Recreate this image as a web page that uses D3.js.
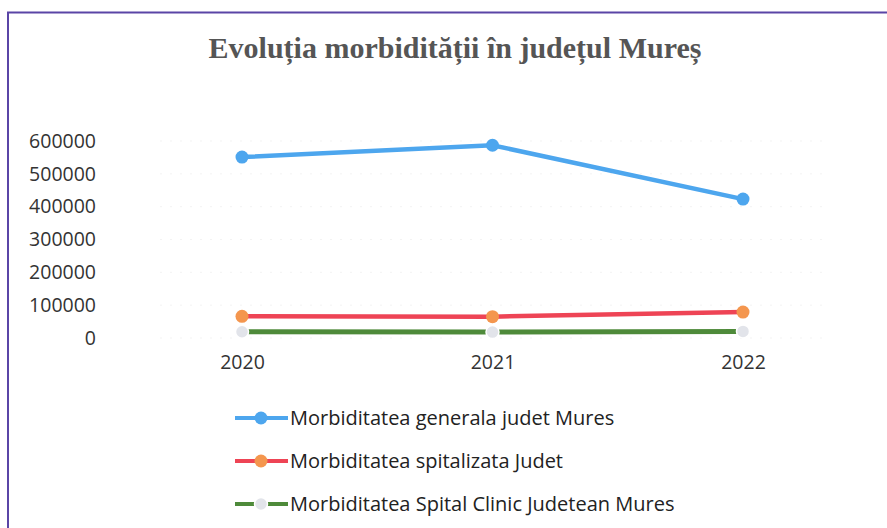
<!DOCTYPE html>
<html>
<head>
<meta charset="utf-8">
<script src="https://cdn.jsdelivr.net/npm/d3@7"></script>
<style>
  body { margin: 0; background: #fff; }
  text { font-family: "Open Sans", sans-serif; }
</style>
</head>
<body>
<div id="chart"></div>
<script>
// data
const years = ['2020', '2021', '2022']
const yTicks = [0, 100000, 200000, 300000, 400000, 500000, 600000]
const seriesNames = [
  'Morbiditatea generala judet Mures',
  'Morbiditatea spitalizata Judet',
  'Morbiditatea Spital Clinic Judetean Mures'
]
const generala = [551000, 587000, 423000]
const spitalizata = [66000, 65000, 79000]
const spitalClinic = [19000, 18000, 20000]

const seriesColors = [
  { line: '#4da6ee', dot: '#4da6ee' },
  { line: '#ee4455', dot: '#f4964e' },
  { line: '#4e8a3a', dot: '#e2e4ea' }
]

async function draw() {
  const dimensions = {
    width: 887,
    height: 528
  }

  const svg = d3.select('#chart')
    .append('svg')
    .attr('width', dimensions.width)
    .attr('height', dimensions.height)

  // frame of the scanned chart
  svg.append('path')
    .attr('d', `M8,${dimensions.height} L8,12.5 L${dimensions.width},12.5`)
    .attr('fill', 'none')
    .attr('stroke', '#5a45a6')
    .attr('stroke-width', 2)

  // title
  svg.append('text')
    .attr('x', 455)
    .attr('y', 58)
    .attr('text-anchor', 'middle')
    .style('font-family', '"Liberation Serif", "Times New Roman", serif')
    .style('font-size', '30px')
    .style('font-weight', 'bold')
    .attr('fill', '#555')
    .text('Evoluția morbidității în județul Mureș')

  const xScale = d3.scalePoint()
    .domain(years)
    .range([242, 743])

  const yScale = d3.scaleLinear()
    .domain([0, 600000])
    .range([338, 141])

  // faint gridlines
  svg.append('g')
    .selectAll('line')
    .data(yTicks)
    .join('line')
    .attr('x1', 160)
    .attr('x2', 830)
    .attr('y1', d => yScale(d))
    .attr('y2', d => yScale(d))
    .attr('stroke', '#f3f3f3')
    .attr('stroke-dasharray', '2,8')

  // y axis
  const yAxis = d3.axisLeft(yScale)
    .tickValues(yTicks)
    .tickSize(0)
    .tickPadding(0)
    .tickFormat(d3.format('d'))
  const yAxisGroup = svg.append('g')
    .attr('transform', 'translate(96,0)')
    .call(yAxis)
  yAxisGroup.select('.domain').remove()
  yAxisGroup.selectAll('text')
    .style('font-size', '19.5px')
    .attr('fill', '#333')

  // x axis
  const xAxis = d3.axisBottom(xScale).tickSize(0).tickPadding(0)
  const xAxisGroup = svg.append('g')
    .attr('transform', 'translate(0,355)')
    .call(xAxis)
  xAxisGroup.select('.domain').remove()
  xAxisGroup.selectAll('text')
    .style('font-size', '19.5px')
    .attr('fill', '#333')

  const allSeries = [generala, spitalizata, spitalClinic]
  const line = d3.line()
    .x((d, i) => xScale(years[i]))
    .y(d => yScale(d))

  // draw back to front so the blue line is on top
  allSeries.slice().reverse().forEach((values, ri) => {
    const s = allSeries.length - 1 - ri
    const g = svg.append('g')
    g.append('path')
      .datum(values)
      .attr('d', line)
      .attr('fill', 'none')
      .attr('stroke', seriesColors[s].line)
      .attr('stroke-width', s === 2 ? 5 : 4.5)
    g.selectAll('circle')
      .data(values)
      .join('circle')
      .attr('cx', (d, i) => xScale(years[i]))
      .attr('cy', d => yScale(d))
      .attr('r', 6.5)
      .attr('fill', seriesColors[s].dot)
      .attr('stroke', s === 2 ? '#fff' : 'none')
      .attr('stroke-width', 1.5)
  })

  // legend
  const legend = svg.append('g')
    .attr('transform', 'translate(235,418)')
  const rows = legend.selectAll('g')
    .data(seriesNames)
    .join('g')
    .attr('transform', (d, i) => `translate(0,${i * 43})`)
  rows.append('line')
    .attr('x1', 0)
    .attr('x2', 53)
    .attr('stroke', (d, i) => seriesColors[i].line)
    .attr('stroke-width', 4)
  rows.append('circle')
    .attr('cx', 26)
    .attr('r', 6.5)
    .attr('fill', (d, i) => seriesColors[i].dot)
    .attr('stroke', (d, i) => i === 2 ? '#fff' : 'none')
    .attr('stroke-width', 1.5)
  rows.append('text')
    .attr('x', 55)
    .attr('dy', '0.35em')
    .style('font-size', '20px')
    .attr('fill', '#222')
    .text(d => d)
}

draw()
</script>
</body>
</html>
